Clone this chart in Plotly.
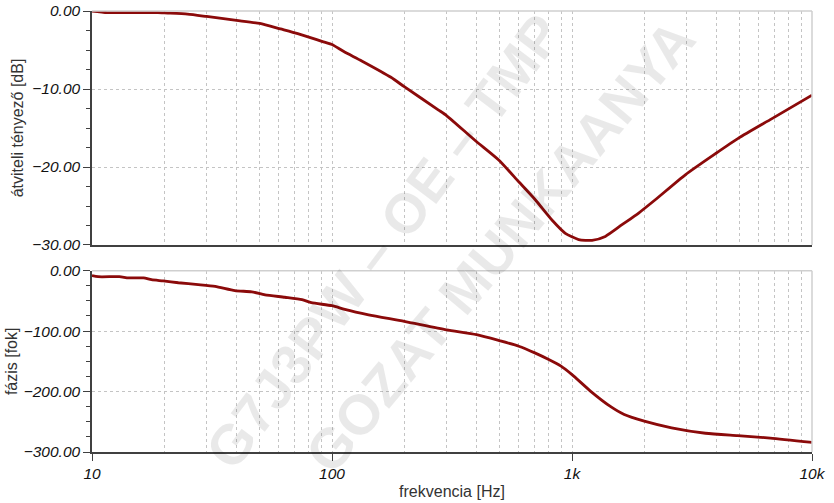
import plotly.graph_objects as go

# ---- data ----
freq_mag = [10, 11.6, 18.8, 20, 25, 30, 40, 50, 61, 72, 93, 100, 112, 133, 176, 200,
            278, 300, 395, 495, 600, 703, 825, 938, 1066, 1212, 1377, 1616, 1896,
            2223, 2966, 3957, 4942, 6812, 10000]
mag_db = [0.0, -0.2, -0.2, -0.25, -0.4, -0.7, -1.2, -1.6, -2.3, -2.9, -4.0, -4.3, -5.2,
          -6.4, -8.5, -9.7, -12.7, -13.4, -16.6, -19.1, -21.9, -24.2, -26.8, -28.5,
          -29.3, -29.4, -28.9, -27.4, -25.9, -24.2, -21.0, -18.3, -16.3, -13.8, -10.8]

freq_ph = [10, 10.6, 13, 14.2, 16.4, 17.7, 19.8, 22.9, 27.7, 32.6, 39.4, 46.3, 52.6,
           63.6, 75, 82, 100, 113, 142, 200, 300, 400, 500, 600, 700, 800, 900, 1000,
           1200, 1450, 1650, 2000, 2600, 3600, 4900, 6700, 10000]
phase_deg = [-8, -10, -10, -12, -12, -15, -17, -20, -23, -26, -33, -35, -40, -44, -48,
             -53, -58, -64, -73, -84, -98, -106, -116, -125, -136, -147, -158, -172,
             -200, -225, -238, -249, -260, -269, -273, -277, -284]

x_tickvals = [10, 100, 1000, 10000]
x_ticktext = ["10", "100", "1k", "10k"]
x_minor = [m * d for d in (10, 100, 1000) for m in range(2, 10)]

mag_ticks = [0, -10, -20, -30]
phase_ticks = [0, -100, -200, -300]

LINE = "#8b0a0a"
GRID = "#c4c4c4"
AX = "#404040"
FONT = "Liberation Sans, Arial, sans-serif"

fig = go.Figure()
fig.add_trace(go.Scatter(x=freq_mag, y=mag_db, mode="lines",
                         line=dict(color=LINE, width=2.8, shape="spline", smoothing=0.6),
                         xaxis="x", yaxis="y", showlegend=False))
fig.add_trace(go.Scatter(x=freq_ph, y=phase_deg, mode="lines",
                         line=dict(color=LINE, width=2.8, shape="spline", smoothing=0.6),
                         xaxis="x2", yaxis="y2", showlegend=False))

tickfont = dict(family=FONT, size=15.5, color="#111111", style="italic")
titlefont = dict(family=FONT, size=16, color="#333333")

common_x = dict(type="log", range=[1, 4], showgrid=True, gridcolor=GRID,
                griddash="dot", gridwidth=1, zeroline=False, showline=True,
                linecolor=AX, linewidth=1.5, tickvals=x_tickvals, ticktext=x_ticktext,
                automargin=False,
                minor=dict(tickvals=x_minor, showgrid=True, gridcolor=GRID,
                           griddash="dot", gridwidth=1))

fig.update_layout(
    width=834, height=503,
    margin=dict(l=92, r=22, t=11, b=51, autoexpand=False),
    paper_bgcolor="white", plot_bgcolor="white",
    xaxis=dict(**common_x, anchor="y", showticklabels=False, ticks=""),
    xaxis2=dict(**common_x, anchor="y2", matches="x", ticks="outside", ticklen=7,
                tickcolor=AX, tickfont=tickfont,
                title=dict(text="frekvencia [Hz]", font=titlefont, standoff=4)),
    yaxis=dict(domain=[0.4694, 1], range=[-30, 0], tickvals=mag_ticks,
               tickformat=".2f", showgrid=True, gridcolor=GRID, griddash="dot",
               zeroline=False, showline=True, linecolor=AX, linewidth=1.5,
               ticks="outside", ticklen=7, tickcolor=AX, tickfont=tickfont,
               automargin=False,
               minor=dict(dtick=2.5, ticks="outside", ticklen=4, tickcolor=AX,
                          showgrid=False),
               title=dict(text="átviteli tényező [dB]", font=titlefont, standoff=5)),
    yaxis2=dict(domain=[0, 0.4112], range=[-300, 0], tickvals=phase_ticks,
                tickformat=".2f", showgrid=True, gridcolor=GRID, griddash="dot",
                zeroline=False, showline=True, linecolor=AX, linewidth=1.5,
                ticks="outside", ticklen=7, tickcolor=AX, tickfont=tickfont,
                automargin=False,
                minor=dict(dtick=25, ticks="outside", ticklen=4, tickcolor=AX,
                           showgrid=False),
                title=dict(text="fázis [fok]", font=titlefont, standoff=2)),
)

# light gray top/right borders
for xr, yr in (("x domain", "y domain"), ("x2 domain", "y2 domain")):
    fig.add_shape(type="line", xref=xr, yref=yr, x0=0, x1=1, y0=1, y1=1,
                  line=dict(color="#cfcfcf", width=1.5))
    fig.add_shape(type="line", xref=xr, yref=yr, x0=1, x1=1, y0=0, y1=1,
                  line=dict(color="#cfcfcf", width=1.5))

# watermark
wm = dict(family="Liberation Sans, Arial, sans-serif", size=56, color="rgba(0,0,0,0.085)",
          weight="bold")
fig.add_annotation(xref="paper", yref="paper", x=(384 - 92) / 720, y=(452.3 - 242) / 441.6,
                   text="G7J3PW – OE – TMP", showarrow=False, textangle=-53, font=wm)
fig.add_annotation(xref="paper", yref="paper", x=(500 - 92) / 720, y=(452.3 - 247) / 441.6,
                   text="GOZAT MUNKAANYA", showarrow=False, textangle=-50, font=wm)

fig.write_html("out.html", config={"displayModeBar": False},
               post_script="document.body.style.margin='0px';")
